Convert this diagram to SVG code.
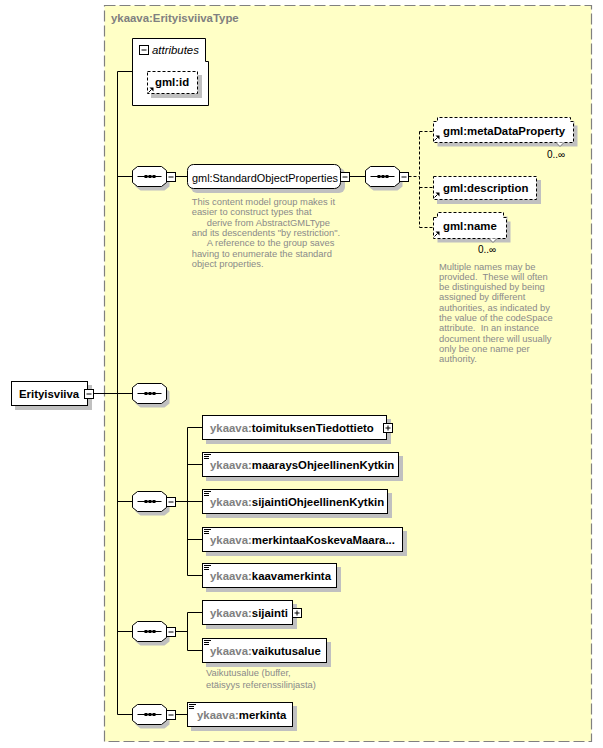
<svg xmlns="http://www.w3.org/2000/svg" xmlns:xlink="http://www.w3.org/1999/xlink" width="603" height="748" viewBox="0 0 603 748">
<style>
.box{fill:#fff;stroke:#000;stroke-width:1}
.dbox{fill:#fff;stroke:#000;stroke-width:1;stroke-dasharray:3,2}
.sh{fill:#c0c0c0}
.ln{stroke:#000;stroke-width:1;fill:none}
.dl{stroke:#000;stroke-width:1;fill:none;stroke-dasharray:3,2}
.b{font-family:"Liberation Sans",Arial,sans-serif;font-weight:bold;font-size:11.4px;fill:#000}
.r{font-family:"Liberation Sans",Arial,sans-serif;font-size:10.9px;fill:#000}
.g{fill:#808080}
.d{font-family:"Liberation Sans",Arial,sans-serif;font-size:9.4px;fill:#8a8a8a}
.m{font-family:"Liberation Sans",Arial,sans-serif;font-size:10px;fill:#000}
</style>
<defs>
<g id="seq">
<path class="sh" d="M8,4 H32 L37,8 V20 L32,24 H8 L3,20 V8 Z"/>
<path class="box" d="M5,0 H29 L34,4 V16 L29,20 H5 L0,16 V4 Z"/>
<path class="ln" d="M5,10 H29"/>
<rect x="12" y="8.5" width="3" height="3" fill="#000"/>
<rect x="16" y="8.5" width="3" height="3" fill="#000"/>
<rect x="20" y="8.5" width="3" height="3" fill="#000"/>
</g>
<g id="minus">
<rect class="box" x="0.5" y="0.5" width="9" height="9"/>
<path class="ln" d="M2.5,5 H7.5"/>
</g>
<g id="plus">
<rect class="box" x="0.5" y="0.5" width="9" height="9"/>
<path class="ln" d="M2.5,5 H7.5 M5,2.5 V7.5"/>
</g>
<g id="simp">
<path class="ln" d="M0,0.5 H7 M0,2.5 H5 M0,4.5 H5"/>
</g>
<g id="ref">
<path class="ln" d="M0.5,5.5 L3.5,2.5"/>
<path d="M1.5,0.5 H5.5 V4.5 Z" fill="#000"/>
</g>
</defs>

<g id="type-ErityisviivaType">
<rect x="104.5" y="5.5" width="487" height="736" fill="#ffffc6" stroke="#808080" stroke-width="1.2" stroke-dasharray="11,4"/>
<text x="111" y="22" class="b g" font-size="11px">ykaava:ErityisviivaType</text>
</g>

<g id="connectors">
<path class="ln" d="M117.5,71.5 V714.5 M117.5,71.5 H132.5"/>
<path class="ln" d="M93.5,393.5 H132.5"/>
<path class="ln" d="M117.5,176.5 H132.5 M175.5,176.5 H187.5 M349.5,176.5 H365.5"/>
<path class="dl" d="M408.5,176.5 H419.5 M419.5,131.5 V227.5 M419.5,131.5 H433.5 M419.5,187.5 H433.5 M419.5,227.5 H433.5"/>
<path class="ln" d="M117.5,501.5 H132.5 M175.5,501.5 H187.5 M187.5,427.5 V575.5 M187.5,427.5 H202.5 M187.5,464.5 H202.5 M187.5,501.5 H202.5 M187.5,539.5 H202.5 M187.5,575.5 H202.5"/>
<path class="ln" d="M117.5,631.5 H132.5 M175.5,631.5 H187.5 M187.5,612.5 V650.5 M187.5,612.5 H202.5 M187.5,650.5 H202.5"/>
<path class="ln" d="M117.5,714.5 H132.5 M175.5,714.5 H187.5"/>
</g>

<g id="node-Erityisviiva">
<rect class="sh" x="15" y="385" width="77" height="25"/>
<rect class="box" x="11.5" y="381.5" width="76" height="24"/>
<text x="19" y="397.5" class="b">Erityisviiva</text>
<use xlink:href="#minus" x="84" y="389"/>
</g>

<g id="node-attributes">
<path class="box" d="M132.5,38.5 H205.5 V61.5 H208.5 V105.5 H132.5 Z"/>
<use xlink:href="#minus" x="139" y="45"/>
<text x="152" y="54" font-family="Liberation Sans,Arial,sans-serif" font-style="italic" font-size="11.4px">attributes</text>
</g>

<g id="node-gml-id">
<rect class="sh" x="151" y="75" width="51" height="23"/>
<rect class="dbox" x="147.5" y="71.5" width="50" height="22"/>
<use xlink:href="#ref" x="148" y="87"/>
<text x="155" y="86" class="b">gml:id</text>
</g>

<g id="seq-1">
<use xlink:href="#seq" x="132.5" y="166.5"/>
<use xlink:href="#minus" x="166" y="172"/>
</g>

<g id="node-StandardObjectProperties">
<rect class="sh" x="191" y="168" width="154" height="25" rx="6"/>
<rect class="box" x="187.5" y="164.5" width="153" height="24" rx="6"/>
<text x="192" y="181.5" class="r">gml:StandardObjectProperties</text>
<use xlink:href="#minus" x="340" y="172"/>
<text class="d" x="191.7" y="205">This content model group makes it</text>
<text class="d" x="191.7" y="215.3">easier to construct types that</text>
<text class="d" x="206.7" y="225.6">derive from AbstractGMLType</text>
<text class="d" x="191.7" y="235.9">and its descendents "by restriction".</text>
<text class="d" x="206.7" y="246.2">A reference to the group saves</text>
<text class="d" x="191.7" y="256.5">having to enumerate the standard</text>
<text class="d" x="191.7" y="266.8">object properties.</text>
</g>

<g id="seq-2">
<use xlink:href="#seq" x="365.5" y="166.5"/>
<use xlink:href="#minus" x="399" y="172"/>
</g>

<g id="node-gml-metaDataProperty">
<path class="sh" d="M437.5,125.5 H441.5 V121.5 H574.5 V125.5 H577.5 V146.5 H437.5 Z"/>
<path class="dbox" d="M433.5,121.5 H437.5 V117.5 H570.5 V121.5 H573.5 V142.5 H433.5 Z"/>
<path d="M556,142.5 L560,146.5 L564,142.5" fill="#fff" stroke="#555" stroke-width="0.8"/>
<use xlink:href="#ref" x="434" y="135"/>
<text x="443" y="134.5" class="b">gml:metaDataProperty</text>
<text x="547" y="158" class="m">0..∞</text>
</g>

<g id="node-gml-description">
<rect class="sh" x="437" y="180" width="104" height="24"/>
<rect class="dbox" x="433.5" y="176.5" width="103" height="23"/>
<use xlink:href="#ref" x="434" y="192"/>
<text x="443" y="191.5" class="b">gml:description</text>
</g>

<g id="node-gml-name">
<path class="sh" d="M437.5,221.5 H441.5 V216.5 H507.5 V221.5 H510.5 V242.5 H437.5 Z"/>
<path class="dbox" d="M433.5,217.5 H437.5 V212.5 H503.5 V217.5 H506.5 V238.5 H433.5 Z"/>
<path d="M489,238.5 L493,242.5 L497,238.5" fill="#fff" stroke="#555" stroke-width="0.8"/>
<use xlink:href="#ref" x="434" y="231"/>
<text x="443" y="229.5" class="b">gml:name</text>
<text x="478" y="253" class="m">0..∞</text>
<text class="d" x="439" y="269.5">Multiple names may be</text>
<text class="d" x="439" y="279.8" xml:space="preserve">provided.  These will often</text>
<text class="d" x="439" y="290.1">be distinguished by being</text>
<text class="d" x="439" y="300.4">assigned by different</text>
<text class="d" x="439" y="310.7">authorities, as indicated by</text>
<text class="d" x="439" y="321">the value of the codeSpace</text>
<text class="d" x="439" y="331.3" xml:space="preserve">attribute.  In an instance</text>
<text class="d" x="439" y="341.6">document there will usually</text>
<text class="d" x="439" y="351.9">only be one name per</text>
<text class="d" x="439" y="362.2">authority.</text>
</g>

<g id="seq-3">
<use xlink:href="#seq" x="132.5" y="383.5"/>
</g>

<g id="seq-4">
<use xlink:href="#seq" x="132.5" y="491.5"/>
<use xlink:href="#minus" x="166" y="497"/>
</g>

<g id="node-toimituksenTiedottieto">
<rect class="sh" x="206" y="419" width="185" height="25"/>
<rect class="box" x="202.5" y="415.5" width="184" height="24"/>
<text x="210" y="431.5" class="b"><tspan class="g">ykaava:</tspan>toimituksenTiedottieto</text>
<use xlink:href="#plus" x="383" y="423"/>
</g>

<g id="node-maaraysOhjeellinenKytkin">
<rect class="sh" x="206" y="456" width="197" height="25"/>
<rect class="box" x="202.5" y="452.5" width="196" height="24"/>
<use xlink:href="#simp" x="204" y="454"/>
<text x="210" y="468.5" class="b"><tspan class="g">ykaava:</tspan>maaraysOhjeellinenKytkin</text>
</g>

<g id="node-sijaintiOhjeellinenKytkin">
<rect class="sh" x="206" y="493" width="186" height="25"/>
<rect class="box" x="202.5" y="489.5" width="185" height="24"/>
<use xlink:href="#simp" x="204" y="491"/>
<text x="210" y="505.5" class="b"><tspan class="g">ykaava:</tspan>sijaintiOhjeellinenKytkin</text>
</g>

<g id="node-merkintaaKoskevaMaara">
<rect class="sh" x="206" y="531" width="201" height="25"/>
<rect class="box" x="202.5" y="527.5" width="200" height="24"/>
<use xlink:href="#simp" x="204" y="529"/>
<text x="210" y="543.5" class="b"><tspan class="g">ykaava:</tspan>merkintaaKoskevaMaara...</text>
</g>

<g id="node-kaavamerkinta">
<rect class="sh" x="206" y="567" width="135" height="25"/>
<rect class="box" x="202.5" y="563.5" width="134" height="24"/>
<use xlink:href="#simp" x="204" y="565"/>
<text x="210" y="579.5" class="b"><tspan class="g">ykaava:</tspan>kaavamerkinta</text>
</g>

<g id="seq-5">
<use xlink:href="#seq" x="132.5" y="621.5"/>
<use xlink:href="#minus" x="166" y="627"/>
</g>

<g id="node-sijainti">
<rect class="sh" x="206" y="604" width="91" height="25"/>
<rect class="box" x="202.5" y="600.5" width="90" height="24"/>
<text x="210" y="617" class="b"><tspan class="g">ykaava:</tspan>sijainti</text>
<use xlink:href="#plus" x="292" y="608"/>
</g>

<g id="node-vaikutusalue">
<rect class="sh" x="206" y="642" width="125" height="25"/>
<rect class="box" x="202.5" y="638.5" width="124" height="24"/>
<use xlink:href="#simp" x="204" y="640"/>
<text x="210" y="654.5" class="b"><tspan class="g">ykaava:</tspan>vaikutusalue</text>
<text class="d" x="206" y="676">Vaikutusalue (buffer,</text>
<text class="d" x="206" y="688">etäisyys referenssilinjasta)</text>
</g>

<g id="seq-6">
<use xlink:href="#seq" x="132.5" y="704.5"/>
<use xlink:href="#minus" x="166" y="710"/>
</g>

<g id="node-merkinta">
<rect class="sh" x="191" y="706" width="106" height="25"/>
<rect class="box" x="187.5" y="702.5" width="105" height="24"/>
<use xlink:href="#simp" x="189" y="704"/>
<text x="197" y="718.5" class="b"><tspan class="g">ykaava:</tspan>merkinta</text>
</g>
</svg>
